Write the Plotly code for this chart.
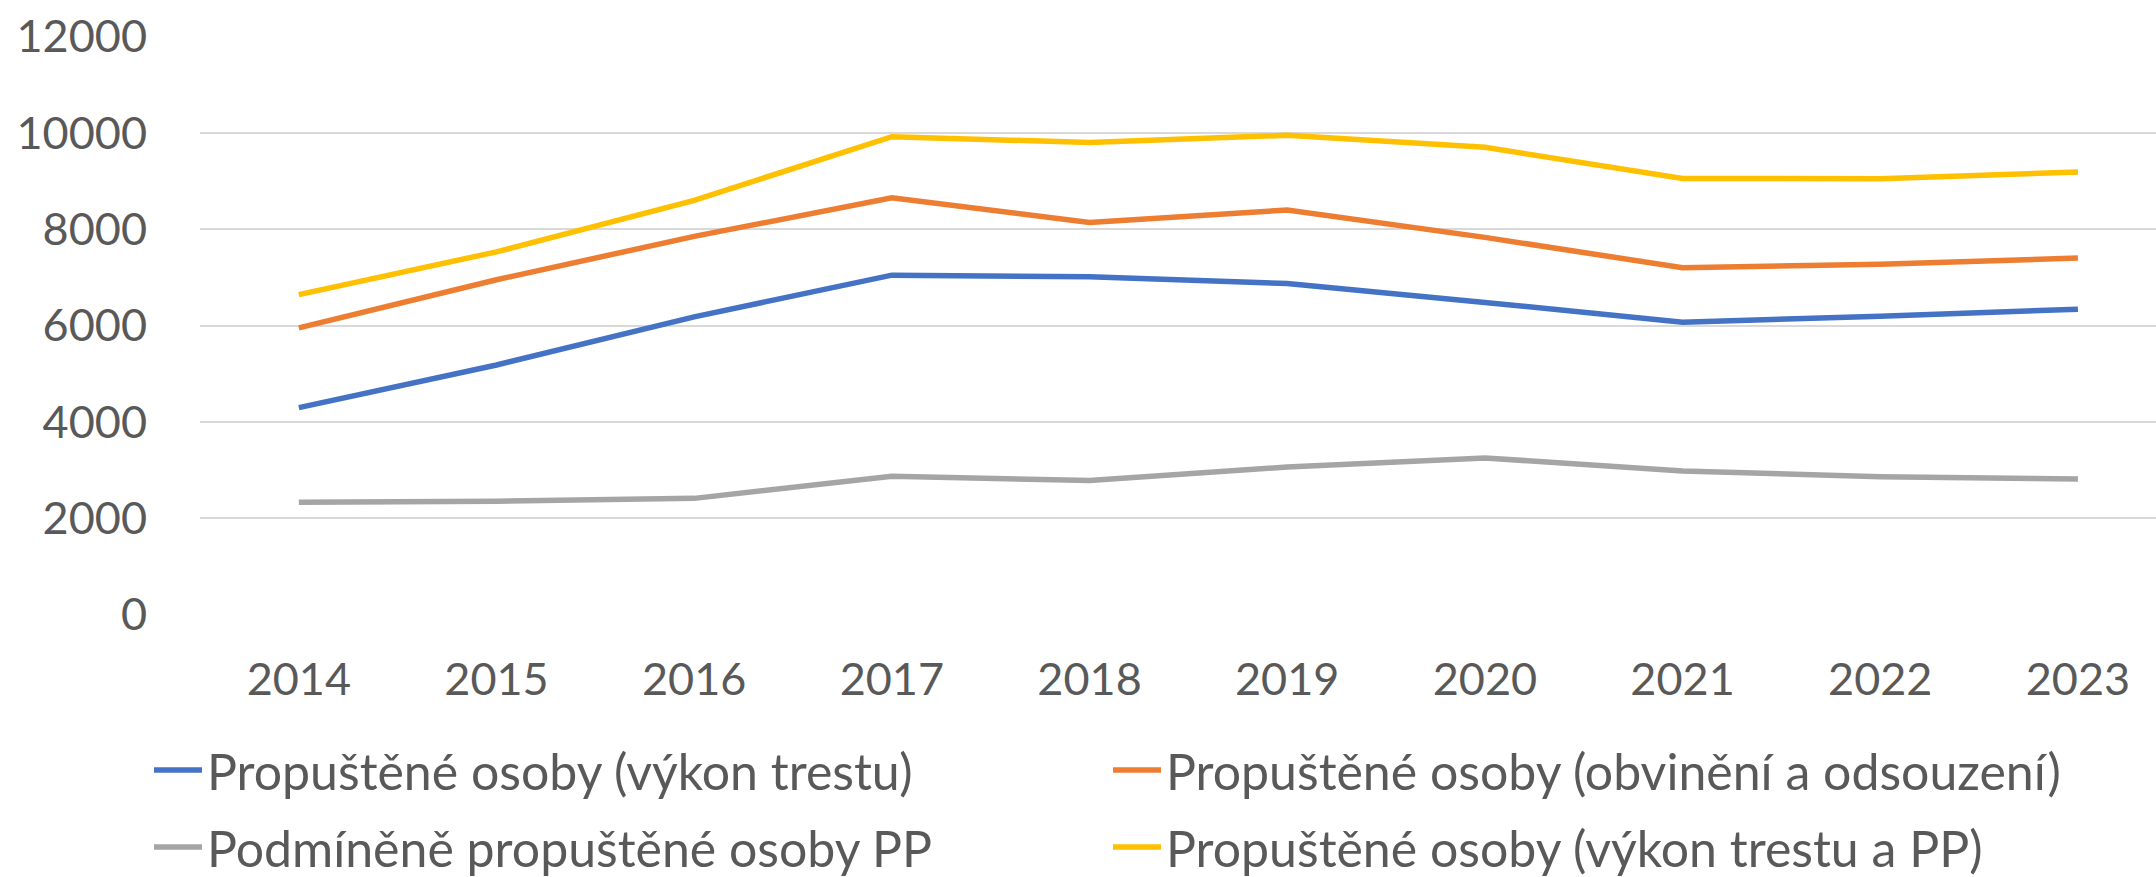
import plotly.graph_objects as go

years = ["2014", "2015", "2016", "2017", "2018", "2019", "2020", "2021", "2022", "2023"]
vykon_trestu = [4295, 5180, 6180, 7045, 7010, 6870, 6480, 6070, 6190, 6340]
obvineni_odsouzeni = [5950, 6950, 7850, 8650, 8140, 8400, 7830, 7200, 7270, 7400]
podminene_pp = [2330, 2350, 2410, 2870, 2780, 3060, 3250, 2980, 2860, 2810]
vykon_trestu_pp = [6640, 7530, 8600, 9920, 9800, 9950, 9700, 9055, 9050, 9190]
y_ticks = [0, 2000, 4000, 6000, 8000, 10000, 12000]

names = [
    "Propuštěné osoby (výkon trestu)",
    "Propuštěné osoby (obvinění a odsouzení)",
    "Podmíněně propuštěné osoby PP",
    "Propuštěné osoby (výkon trestu a PP)",
]
colors = ["#4472C4", "#ED7D31", "#A5A5A5", "#FFC000"]
series = [vykon_trestu, obvineni_odsouzeni, podminene_pp, vykon_trestu_pp]
legend_ids = ["legend", "legend", "legend2", "legend2"]

FONT = "Lato"
TXT = "#595959"

fig = go.Figure()
for name, vals, col, lg in zip(names, series, colors, legend_ids):
    fig.add_trace(go.Scatter(
        x=years, y=vals, name=name, mode="lines",
        line=dict(color=col, width=5.5),
        legend=lg,
    ))

legend_common = dict(
    orientation="h", xanchor="left", yanchor="middle",
    xref="container", yref="container",
    font=dict(family=FONT, size=50, color=TXT),
    itemwidth=48,
    entrywidth=896, entrywidthmode="pixels",
    bgcolor="rgba(0,0,0,0)", itemclick=False, itemdoubleclick=False,
)

fig.update_layout(
    width=2156, height=877,
    margin=dict(l=200, r=0, t=36, b=262, pad=0, autoexpand=False),
    paper_bgcolor="white", plot_bgcolor="white",
    font=dict(family=FONT, color=TXT),
    showlegend=True,
    legend=dict(x=149 / 2156, y=1 - 770 / 877, **legend_common),
    legend2=dict(x=149 / 2156, y=1 - 847 / 877, **legend_common),
    xaxis=dict(
        type="category", range=[-0.5, 9.395],
        showgrid=False, showline=False, zeroline=False, ticks="",
        tickfont=dict(family=FONT, size=45, color=TXT),
        ticklabelstandoff=34,
    ),
    yaxis=dict(
        range=[-12, 12012], tickvals=y_ticks, tickformat="d",
        showgrid=True, gridcolor="#D9D9D9", gridwidth=2,
        zeroline=False, showline=False, ticks="",
        tickfont=dict(family=FONT, size=45, color=TXT),
        ticklabelstandoff=52,
    ),
)

fig.write_html(
    "out.html",
    config={"displayModeBar": False},
    post_script="document.body.style.margin='0';document.body.style.overflow='hidden';",
)
